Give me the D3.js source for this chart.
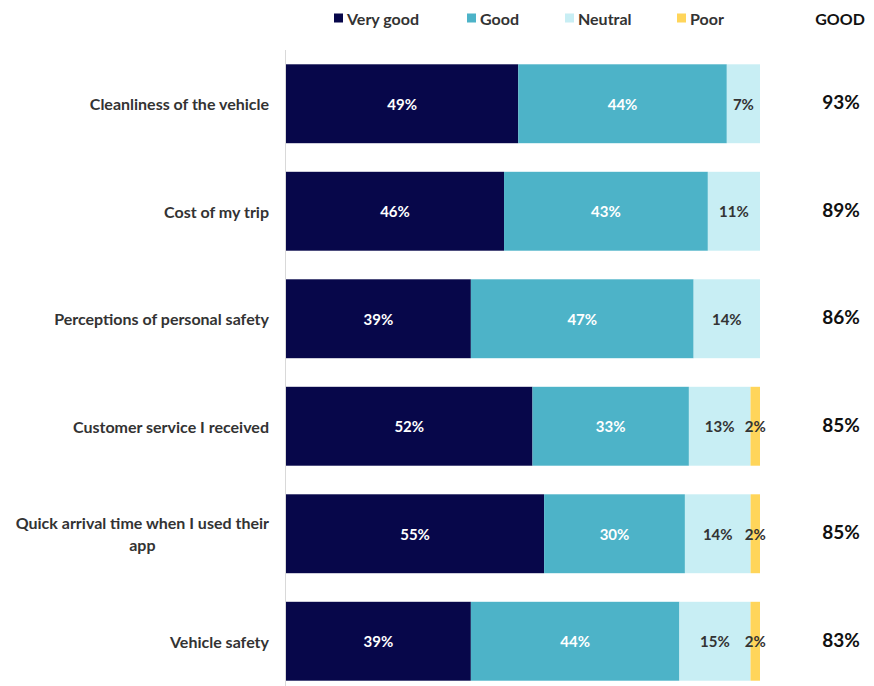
<!DOCTYPE html>
<html>
<head>
<meta charset="utf-8">
<script src="https://cdn.jsdelivr.net/npm/d3@7"></script>
<style>
  body { margin: 0; background: #fff; }
  text { font-family: Lato, "Open Sans", sans-serif; font-weight: bold; }
</style>
</head>
<body>
<div id="vis"></div>
<script>
const width = 874
const height = 686

const categories = [
    "Cleanliness of the vehicle",
    "Cost of my trip",
    "Perceptions of personal safety",
    "Customer service I received",
    "Quick arrival time when I used their app",
    "Vehicle safety"
]
const series = ["Very good", "Good", "Neutral", "Poor"]
const veryGood = [49, 46, 39, 52, 55, 39]
const good = [44, 43, 47, 33, 30, 44]
const neutral = [7, 11, 14, 13, 14, 15]
const poor = [0, 0, 0, 2, 2, 2]
const goodTotal = [93, 89, 86, 85, 85, 83]
const colours = ["#07074a", "#4db3c8", "#c8eef4", "#ffd55a"]
const labelColours = ["#ffffff", "#ffffff", "#333333", "#333333"]

const rows = categories.map((c, i) => ({
    category: c,
    "Very good": veryGood[i],
    "Good": good[i],
    "Neutral": neutral[i],
    "Poor": poor[i],
    total: goodTotal[i]
}))

const svg = d3.select("#vis")
    .append("svg")
    .attr("width", width)
    .attr("height", height)

// 100% stacked: each row is normalised to its own sum
const xScale = d3.scaleLinear([0, 1], [286, 760])
const yScale = d3.scaleBand(categories, [50, 695]).paddingInner(0.266).paddingOuter(0.133)
const colourScale = d3.scaleOrdinal(series, colours)

const stacked = d3.stack().keys(series).offset(d3.stackOffsetExpand)(rows)

// axis line on the left
svg.append("line")
    .attr("x1", 285.5).attr("x2", 285.5)
    .attr("y1", 50).attr("y2", height)
    .attr("stroke", "#d9d9d9")
    .attr("stroke-width", 1)

const layers = svg.selectAll("g.layer")
    .data(stacked)
    .join("g")
        .attr("class", "layer")
        .attr("fill", d => colourScale(d.key))

layers.selectAll("rect")
    .data(d => d)
    .join("rect")
        .attr("x", d => xScale(d[0]))
        .attr("width", d => xScale(d[1]) - xScale(d[0]))
        .attr("y", d => yScale(d.data.category))
        .attr("height", yScale.bandwidth())

// value labels inside segments
stacked.forEach((layer, si) => {
    svg.append("g").selectAll("text")
        .data(layer.filter(d => d.data[layer.key] > 0))
        .join("text")
            .attr("x", d => (xScale(d[0]) + xScale(d[1])) / 2)
            .attr("y", d => yScale(d.data.category) + yScale.bandwidth() / 2)
            .attr("text-anchor", "middle")
            .attr("dominant-baseline", "central")
            .attr("font-size", 15)
            .attr("fill", labelColours[si])
            .text(d => d.data[layer.key] + "%")
})

// category labels (wrap long ones)
const catLabels = svg.append("g")
categories.forEach(c => {
    const cy = yScale(c) + yScale.bandwidth() / 2
    const t = catLabels.append("text")
        .attr("font-size", 16)
        .attr("fill", "#333333")
        .attr("text-anchor", "end")
    if (c.length > 32) {
        const words = c.split(" ")
        const first = words.slice(0, -1).join(" ")
        const last = words[words.length - 1]
        t.attr("x", 269).attr("y", cy - 11).attr("dominant-baseline", "central").text(first)
        const w = t.node().getComputedTextLength()
        catLabels.append("text")
            .attr("font-size", 16)
            .attr("fill", "#333333")
            .attr("text-anchor", "middle")
            .attr("x", 269 - w / 2)
            .attr("y", cy + 11)
            .attr("dominant-baseline", "central")
            .text(last)
    } else {
        t.attr("x", 269).attr("y", cy).attr("dominant-baseline", "central").text(c)
    }
})

// GOOD totals column
svg.append("text")
    .attr("x", 840).attr("y", 18)
    .attr("text-anchor", "middle")
    .attr("dominant-baseline", "central")
    .attr("font-size", 16)
    .attr("fill", "#111111")
    .text("GOOD")

svg.append("g").selectAll("text")
    .data(rows)
    .join("text")
        .attr("x", 841)
        .attr("y", d => yScale(d.category) + yScale.bandwidth() / 2 - 2)
        .attr("text-anchor", "middle")
        .attr("dominant-baseline", "central")
        .attr("font-size", 19)
        .attr("fill", "#111111")
        .text(d => d.total + "%")

// legend
const legendX = [334, 467, 565, 677]
const legend = svg.append("g").selectAll("g")
    .data(series)
    .join("g")
        .attr("transform", (d, i) => `translate(${legendX[i]}, 18)`)

legend.append("rect")
    .attr("x", 0).attr("y", -4.5)
    .attr("width", 9).attr("height", 9)
    .attr("fill", d => colourScale(d))

legend.append("text")
    .attr("x", 13)
    .attr("dominant-baseline", "central")
    .attr("font-size", 16)
    .attr("fill", "#333333")
    .text(d => d)
</script>
</body>
</html>
